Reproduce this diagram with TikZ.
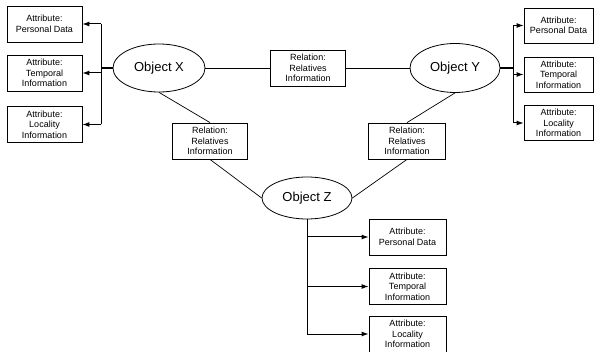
\documentclass[tikz,border=0pt]{standalone}
\usepackage{fontspec}
\setmainfont{Liberation Sans}
\usetikzlibrary{shapes.geometric,arrows.meta}
\begin{document}
\begin{tikzpicture}[x=1pt,y=-1pt,
  obj/.style={draw,ellipse,line width=0.8pt,inner sep=0pt,font=\fontsize{13}{15}\selectfont},
  attr/.style={draw,rectangle,line width=0.8pt,inner sep=0pt,align=center,font=\fontsize{9}{10.5}\selectfont,minimum height=36pt},
  rel/.style={attr},
  relline/.style={line width=0.7pt},
  stub/.style={line width=1.6pt},
  tree/.style={line width=1pt},
  treearrow/.style={line width=1pt,-{Latex[length=7pt,width=5pt]}}
]
\useasboundingbox (0,0) rectangle (596,352);
% objects
\node[obj,minimum width=92pt,minimum height=48pt] (X) at (159,68) {Object X};
\node[obj,minimum width=90pt,minimum height=49pt] (Y) at (455,68) {Object Y};
\node[obj,minimum width=90pt,minimum height=42pt] (Z) at (307,198) {Object Z};
% relations
\node[rel,minimum width=75pt] (R1) at (308,68) {Relation:\\Relatives\\Information};
\node[rel,minimum width=75pt] (R2) at (210,141) {Relation:\\Relatives\\Information};
\node[rel,minimum width=77pt] (R3) at (407,141) {Relation:\\Relatives\\Information};
% left attributes
\node[attr,minimum width=75pt] (XA1) at (44.5,24) {Attribute:\\Personal Data};
\node[attr,minimum width=75pt] (XA2) at (44.5,73) {Attribute:\\Temporal\\Information};
\node[attr,minimum width=75pt] (XA3) at (44.5,124.5) {Attribute:\\Locality\\Information};
% right attributes
\node[attr,minimum width=69pt,minimum height=35pt] (YA1) at (558.5,25.5) {Attribute:\\Personal Data};
\node[attr,minimum width=69pt,minimum height=35pt] (YA2) at (558.5,74.5) {Attribute:\\Temporal\\Information};
\node[attr,minimum width=69pt,minimum height=35pt] (YA3) at (558.5,123) {Attribute:\\Locality\\Information};
% bottom attributes
\node[attr,minimum width=77pt] (ZA1) at (407.5,237) {Attribute:\\Personal Data};
\node[attr,minimum width=77pt] (ZA2) at (407.5,286.5) {Attribute:\\Temporal\\Information};
\node[attr,minimum width=77pt] (ZA3) at (407.5,334) {Attribute:\\Locality\\Information};
% relation lines
\draw[relline] (X.east) -- (R1.west);
\draw[relline] (R1.east) -- (Y.west);
\draw[relline] (X.south) -- (R2.north);
\draw[relline] (R2.south) -- (Z.west);
\draw[relline] (Y.south) -- (R3.north);
\draw[relline] (R3.south) -- (Z.east);
% left tree
\coordinate (xj) at (101,68);
\draw[stub] (X.west) -- (xj);
\draw[tree] (xj |- XA1) -- (xj |- XA3);
\draw[treearrow] (xj |- XA1) -- (XA1.east);
\draw[treearrow] (xj |- XA2) -- (XA2.east);
\draw[treearrow] (xj |- XA3) -- (XA3.east);
% right tree
\coordinate (yj) at (513,68);
\draw[stub] (Y.east) -- (yj);
\draw[tree] (yj |- YA1) -- (yj |- YA3);
\draw[treearrow] (yj |- YA1) -- (YA1.west);
\draw[treearrow] (yj |- YA2) -- (YA2.west);
\draw[treearrow] (yj |- YA3) -- (YA3.west);
% bottom tree
\draw[tree] (Z.south) -- (Z.south |- ZA3);
\draw[treearrow] (Z.south |- ZA1) -- (ZA1.west);
\draw[treearrow] (Z.south |- ZA2) -- (ZA2.west);
\draw[treearrow] (Z.south |- ZA3) -- (ZA3.west);
\end{tikzpicture}
\end{document}
